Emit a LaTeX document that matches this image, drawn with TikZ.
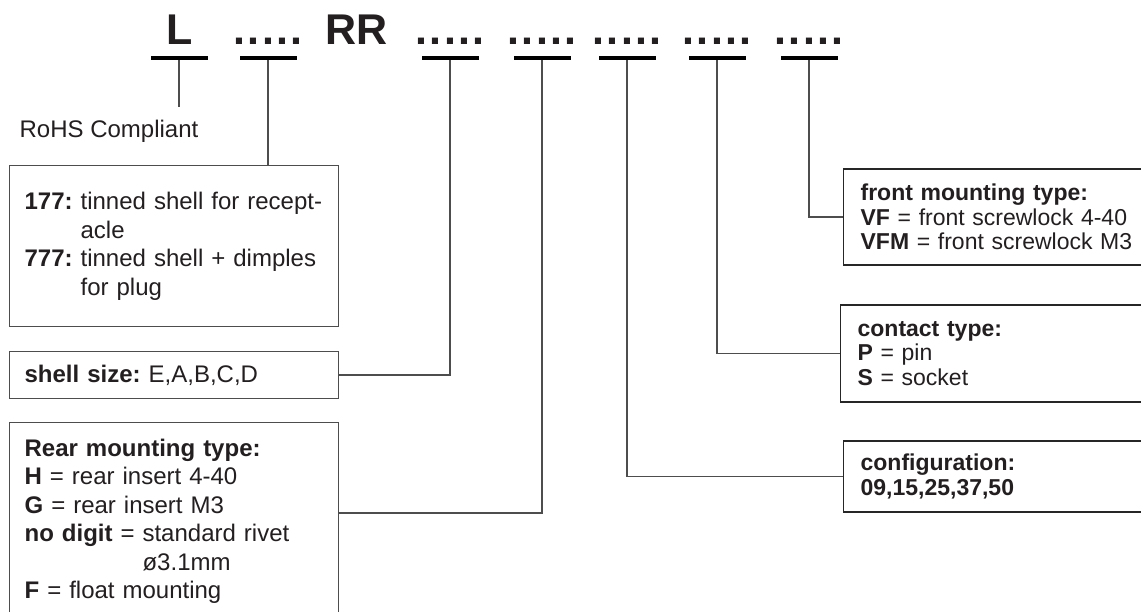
\documentclass[tikz,border=0pt]{standalone}
\usepackage{fontspec}
\setmainfont{Liberation Sans}
\usepackage{tikz}
\frenchspacing

\definecolor{tinta}{HTML}{231F20}
\definecolor{linea}{HTML}{4D4D4D}
\newcommand{\puntos}{.\kern2.3pt.\kern2.3pt.\kern2.3pt.\kern2.3pt.}

\begin{document}
\begin{tikzpicture}[x=1pt,y=-1pt,
    every node/.style={text=tinta},
    cabecera/.style={font=\fontsize{43}{43}\selectfont\bfseries, anchor=base, inner sep=0pt},
    barra/.style={fill=black, minimum width=57pt, minimum height=4pt, inner sep=0pt},
    nota/.style={font=\fontsize{24}{28.5}\selectfont},
    guia/.style={linea, line width=1.2pt},
    caja/.style={draw=linea, line width=1.2pt, anchor=north west, align=left,
      inner xsep=15pt, text width=299pt, font=\fontsize{24}{28.5}\selectfont},
    cajader/.style={draw=black!85, line width=1.2pt, anchor=west, align=left,
      inner xsep=17pt, text width=300pt, font=\fontsize{23}{24.5}\selectfont}]
    % Marco
    \clip (0,0) rectangle (1141,612);
    \fill[white] (0,0) rectangle (1141,612);

    % Código del conector
    \node[cabecera] (cL) at (180,45) {L};
    \node[cabecera] (cRR) at (357,45) {RR};
    \foreach \n/\x in {1/268,2/450,3/542,4/627,5/717,6/809}
      \node[cabecera] (c\n) at (\x,45) {\puntos};

    % Barras
    \foreach \n/\x in {L/179,1/268,2/450,3/542,4/627,5/717,6/809}
      \node[barra] (b\n) at (\x,58) {};

    % Cajas de la izquierda
    \node[nota] (rohs) at (109,131) {RoHS Compliant};
    \coordinate (finL) at (179,107);

    \node[caja, minimum height=161pt] (cuerpo) at (9,165) {%
      \textbf{177:} tinned shell for recept-\\
      \hphantom{\textbf{177:} }acle\\
      \textbf{777:} tinned shell + dimples\\
      \hphantom{\textbf{777:} }for plug};

    \node[caja, minimum height=47pt] (talla) at (9,351) {\textbf{shell size:} E,A,B,C,D};

    \node[caja, inner ysep=15.5pt, text height=18pt, text depth=200pt] (trasera) at (9,422) {%
      \textbf{Rear mounting type:}\\
      \textbf{H} = rear insert 4-40\\
      \textbf{G} = rear insert M3\\
      \textbf{no digit} = standard rivet\\
      \hphantom{\textbf{no digit} = }ø3.1mm\\
      \textbf{F} = float mounting};

    % Cajas de la derecha
    \node[cajader, minimum height=96pt] (frontal) at (843,217) {%
      \textbf{front mounting type:}\\
      \textbf{VF} = front screwlock 4-40\\
      \textbf{VFM} = front screwlock M3};
    \node[cajader, minimum height=97pt] (contacto) at (840,353.5) {%
      \textbf{contact type:}\\
      \textbf{P} = pin\\
      \textbf{S} = socket};
    \node[cajader, minimum height=71pt] (config) at (843,476.5) {%
      \textbf{configuration:}\\
      \textbf{09,15,25,37,50}};

    % Líneas guía
    \draw[guia] (bL.south) -- (finL);
    \draw[guia] (b1.south) -- (b1.south |- cuerpo.north);
    \draw[guia] (b2.south) |- (talla.east);
    \draw[guia] (b3.south) |- ([yshift=-91pt]trasera.north east);
    \draw[guia] (b4.south) |- (config.west);
    \draw[guia] (b5.south) |- (contacto.west);
    \draw[guia] (b6.south) |- (frontal.west);
  \end{tikzpicture}
\end{document}
